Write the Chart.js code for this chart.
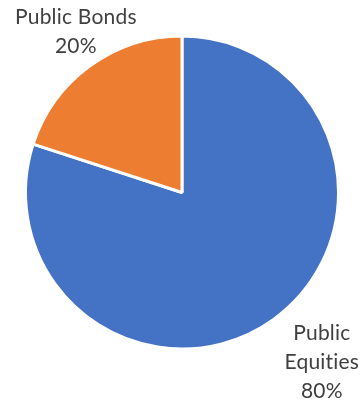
<!DOCTYPE html>
<html>
<head>
<meta charset="utf-8">
<script src="https://cdn.jsdelivr.net/npm/chart.js@4.4.0/dist/chart.umd.min.js"></script>
<style>
  html, body { margin: 0; padding: 0; background: #fff; }
  #wrap { width: 362px; height: 402px; }
</style>
</head>
<body>
<div id="wrap"><canvas id="myChart" width="362" height="402"></canvas></div>
<script>
var categories = ['Public Equities', 'Public Bonds'];
var shares = [80, 20];
var sliceColors = ['#4472C4', '#ED7D31'];
// label lines per slice, how far out (in radii) each label sits, and a small nudge
var labelLines = [['Public', 'Equities', '80%'], ['Public Bonds', '20%']];
var labelDist = [1.39, 1.23];
var labelNudge = [[12, -6], [7, -5]];

var sliceLabels = {
    id: 'sliceLabels',
    afterDraw: function (chart) {
        var ctx = chart.ctx;
        var arcs = chart.getDatasetMeta(0).data;
        ctx.save();
        ctx.font = '21px Lato, "Open Sans", sans-serif';
        ctx.fillStyle = '#404040';
        ctx.textAlign = 'center';
        ctx.textBaseline = 'middle';
        // tiny spacing keeps Lato from joining "ti" into a ligature
        ctx.letterSpacing = '0.2px';
        arcs.forEach(function (arc, i) {
            var p = arc.getProps(['x', 'y', 'startAngle', 'endAngle', 'outerRadius']);
            var mid = (p.startAngle + p.endAngle) / 2;
            var r = p.outerRadius * labelDist[i];
            var cx = p.x + Math.cos(mid) * r + labelNudge[i][0];
            var cy = p.y + Math.sin(mid) * r + labelNudge[i][1];
            var lines = labelLines[i];
            var lh = 29;
            var y0 = cy - (lines.length - 1) * lh / 2;
            lines.forEach(function (t, j) {
                ctx.fillText(t, cx, y0 + j * lh);
            });
        });
        ctx.restore();
    }
};

var ctx = document.getElementById('myChart').getContext('2d');
var myChart = new Chart(ctx, {
    type: 'pie',
    data: {
        labels: categories,
        datasets: [{
            data: shares,
            backgroundColor: sliceColors,
            borderColor: '#ffffff',
            borderWidth: 3
        }]
    },
    options: {
        responsive: false,
        animation: false,
        layout: {
            padding: { left: 24, right: 22, top: 34, bottom: 51 }
        },
        plugins: {
            legend: { display: false },
            tooltip: { enabled: false }
        }
    },
    plugins: [sliceLabels]
});
</script>
</body>
</html>
